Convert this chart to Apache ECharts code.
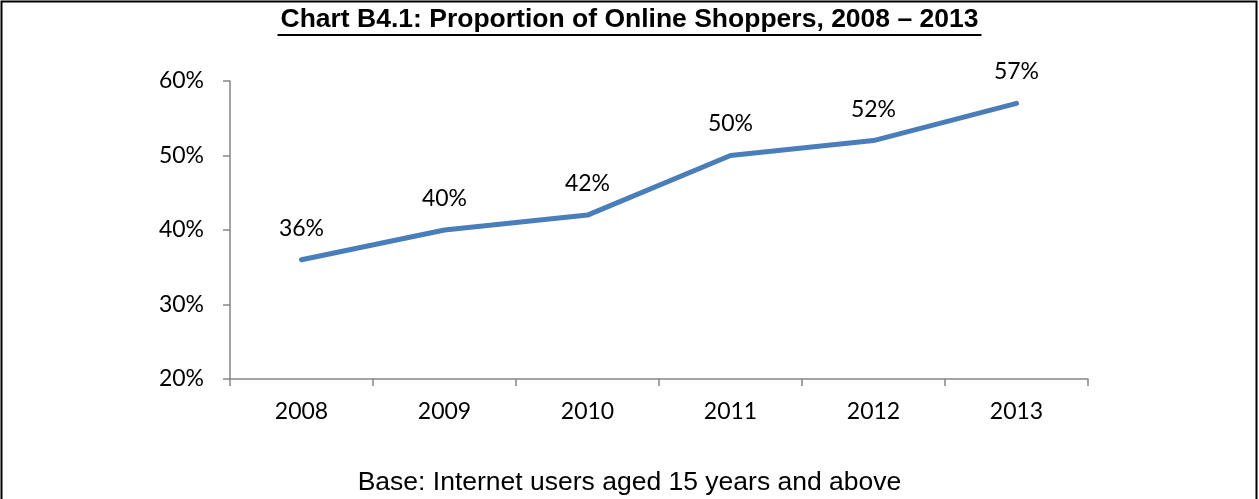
<!DOCTYPE html>
<html>
<head>
<meta charset="utf-8">
<script src="https://cdn.jsdelivr.net/npm/echarts@6/dist/echarts.min.js"></script>
<style>
  html, body { margin: 0; padding: 0; background: #fff; }
  #chart { width: 1259px; height: 499px; }
</style>
</head>
<body>
<div id="chart"></div>
<script>
// Proportion of online shoppers by year
const years = ['2008', '2009', '2010', '2011', '2012', '2013'];
const shoppers = [36, 40, 42, 50, 52, 57];
const yTicks = [20, 30, 40, 50, 60];

const titleText = 'Chart B4.1: Proportion of Online Shoppers, 2008 \u2013 2013';
const baseText = 'Base: Internet users aged 15 years and above';

const labelFont = 'Lato, "Open Sans", sans-serif';
const axisGrey = '#868686';

const chart = echarts.init(document.getElementById('chart'), null, { renderer: 'canvas' });

chart.setOption({
  animation: false,
  backgroundColor: '#ffffff',
  graphic: [
    {
      type: 'rect',
      shape: { x: 1.5, y: 1.5, width: 1255, height: 520 },
      style: { fill: 'none', stroke: '#000', lineWidth: 2 },
      silent: true
    },
    {
      type: 'text',
      left: 'center',
      top: 6,
      style: {
        text: titleText,
        font: 'bold 26.5px "Liberation Sans", Arial, sans-serif',
        fill: '#000'
      }
    },
    {
      type: 'rect',
      left: 'center',
      top: 34,
      shape: { width: 704, height: 2 },
      style: { fill: '#000' }
    },
    {
      type: 'text',
      left: 'center',
      top: 469,
      style: {
        text: baseText,
        font: '26.5px "Liberation Sans", Arial, sans-serif',
        fill: '#000'
      }
    }
  ],
  grid: { left: 230, right: 171, top: 81, bottom: 120, containLabel: false },
  xAxis: {
    type: 'category',
    data: years,
    boundaryGap: true,
    axisLine: { lineStyle: { color: axisGrey, width: 1.5 } },
    axisTick: { show: true, length: 7, alignWithLabel: false, lineStyle: { color: axisGrey, width: 1.5 } },
    axisLabel: { margin: 21, color: '#000', fontSize: 23, fontFamily: labelFont }
  },
  yAxis: {
    type: 'value',
    min: yTicks[0],
    max: yTicks[yTicks.length - 1],
    interval: 10,
    axisLine: { show: true, lineStyle: { color: axisGrey, width: 1.5 } },
    axisTick: { show: true, length: 7, lineStyle: { color: axisGrey, width: 1.5 } },
    splitLine: { show: false },
    axisLabel: {
      margin: 26,
      color: '#000',
      fontSize: 23,
      fontFamily: labelFont,
      formatter: v => v + '%'
    }
  },
  series: [{
    type: 'line',
    data: shoppers,
    symbol: 'circle',
    symbolSize: 2,
    showSymbol: true,
    itemStyle: { color: 'rgba(74,126,187,0)', borderWidth: 0 },
    lineStyle: { color: '#4A7EBB', width: 5, cap: 'round', join: 'round' },
    label: {
      show: true,
      position: 'top',
      distance: 19,
      color: '#000',
      fontSize: 23,
      fontFamily: labelFont,
      formatter: p => p.value + '%'
    }
  }]
});
</script>
</body>
</html>
